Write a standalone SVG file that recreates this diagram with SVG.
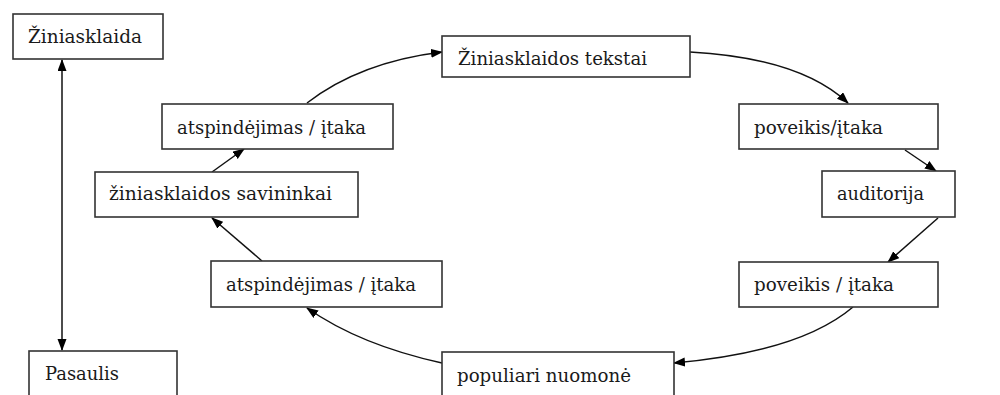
<svg xmlns="http://www.w3.org/2000/svg" width="1000" height="395" viewBox="0 0 1000 395">
  <defs>
    <style>
      .box { fill: #ffffff; stroke: #333333; stroke-width: 1.6; }
      .lbl { font-family: 'DejaVu Serif', 'Liberation Serif', serif; font-size: 19px; fill: #1a1a1a; }
      .link { fill: none; stroke: #111111; stroke-width: 1.5; }
    </style>
    <marker id="arrow" markerUnits="userSpaceOnUse" markerWidth="12" markerHeight="10" refX="11" refY="4.5" orient="auto-start-reverse">
      <path d="M0,0 L12,4.5 L0,9 z" fill="#000000"/>
    </marker>
  </defs>
  <rect width="1000" height="395" fill="#ffffff"/>

  <!-- connectors -->
  <g id="connectors">
    <path class="link" d="M62,60 L62,350" marker-start="url(#arrow)" marker-end="url(#arrow)"/>
    <path class="link" d="M307,103 Q360,62 442,52" marker-end="url(#arrow)"/>
    <path class="link" d="M690,52 Q800,58 848,103" marker-end="url(#arrow)"/>
    <path class="link" d="M905,150 L936,171" marker-end="url(#arrow)"/>
    <path class="link" d="M938,218 L888,262" marker-end="url(#arrow)"/>
    <path class="link" d="M853,307 Q800,352 674,363" marker-end="url(#arrow)"/>
    <path class="link" d="M442,363 Q360,345 307,308" marker-end="url(#arrow)"/>
    <path class="link" d="M262,261 L212,218" marker-end="url(#arrow)"/>
    <path class="link" d="M212,172 L244,149" marker-end="url(#arrow)"/>
  </g>

  <!-- nodes -->
  <g id="ziniasklaida">
    <rect class="box" x="13" y="14" width="150" height="45"/>
    <text class="lbl" x="28" y="43" textLength="114" lengthAdjust="spacingAndGlyphs">Žiniasklaida</text>
  </g>
  <g id="pasaulis">
    <rect class="box" x="29" y="351" width="148" height="60"/>
    <text class="lbl" x="45" y="380" textLength="74" lengthAdjust="spacingAndGlyphs">Pasaulis</text>
  </g>
  <g id="tekstai">
    <rect class="box" x="442" y="36" width="248" height="41"/>
    <text class="lbl" x="458" y="65" textLength="189" lengthAdjust="spacingAndGlyphs">Žiniasklaidos tekstai</text>
  </g>
  <g id="poveikis-1">
    <rect class="box" x="739" y="104" width="199" height="45"/>
    <text class="lbl" x="754" y="134" textLength="129" lengthAdjust="spacingAndGlyphs">poveikis/įtaka</text>
  </g>
  <g id="auditorija">
    <rect class="box" x="822" y="171" width="133" height="46"/>
    <text class="lbl" x="837" y="200" textLength="87" lengthAdjust="spacingAndGlyphs">auditorija</text>
  </g>
  <g id="poveikis-2">
    <rect class="box" x="739" y="262" width="199" height="45"/>
    <text class="lbl" x="754" y="291" textLength="140" lengthAdjust="spacingAndGlyphs">poveikis / įtaka</text>
  </g>
  <g id="populiari">
    <rect class="box" x="442" y="352" width="232" height="60"/>
    <text class="lbl" x="457" y="382" textLength="174" lengthAdjust="spacingAndGlyphs">populiari nuomonė</text>
  </g>
  <g id="atspindejimas-2">
    <rect class="box" x="211" y="261" width="231" height="46"/>
    <text class="lbl" x="226" y="291" textLength="190" lengthAdjust="spacingAndGlyphs">atspindėjimas / įtaka</text>
  </g>
  <g id="savininkai">
    <rect class="box" x="95" y="172" width="263" height="45"/>
    <text class="lbl" x="109" y="200" textLength="223" lengthAdjust="spacingAndGlyphs">žiniasklaidos savininkai</text>
  </g>
  <g id="atspindejimas-1">
    <rect class="box" x="162" y="104" width="231" height="45"/>
    <text class="lbl" x="177" y="134" textLength="189" lengthAdjust="spacingAndGlyphs">atspindėjimas / įtaka</text>
  </g>
</svg>
